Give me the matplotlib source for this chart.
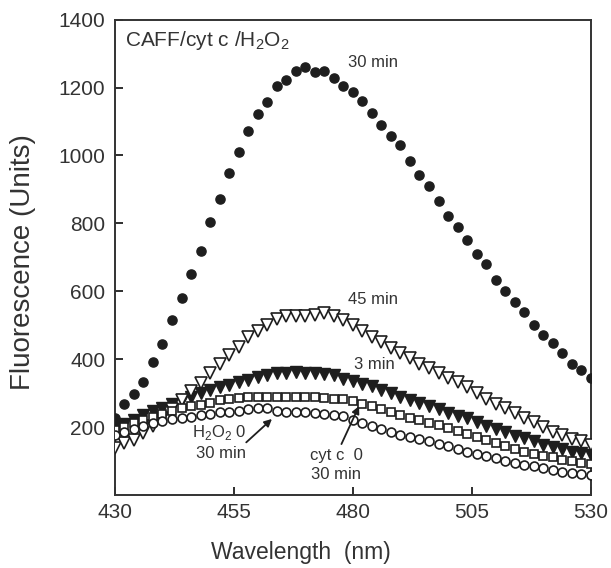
import matplotlib
matplotlib.use("Agg")
import matplotlib.pyplot as plt

plt.rcParams['font.family'] = ['Liberation Sans', 'DejaVu Sans']
plt.rcParams['mathtext.fontset'] = 'custom'
plt.rcParams['mathtext.rm'] = 'Liberation Sans'

wavelength = list(range(430, 531, 2))

caff_30min = [228, 268, 298, 332, 393, 446, 515, 581, 652, 720,
              804, 871, 949, 1011, 1072, 1122, 1157, 1203, 1221, 1249,
              1259, 1247, 1249, 1228, 1203, 1188, 1159, 1126, 1089, 1057,
              1030, 983, 943, 910, 865, 822, 788, 750, 709, 680,
              632, 602, 569, 539, 501, 470, 448, 417, 386, 369, 345]

caff_45min = [138, 152, 163, 182, 204, 228, 253, 280, 305, 330,
              360, 386, 411, 435, 466, 483, 502, 517, 527, 527,
              527, 530, 537, 527, 516, 500, 482, 466, 450, 433,
              419, 404, 386, 374, 360, 345, 332, 317, 300, 283,
              269, 256, 241, 228, 214, 200, 187, 177, 165, 158, 148]

caff_3min = [200, 210, 222, 236, 246, 256, 269, 279, 290, 300,
             310, 318, 325, 332, 340, 348, 352, 358, 360, 361,
             360, 358, 355, 352, 343, 335, 328, 320, 310, 300,
             290, 281, 271, 263, 253, 241, 233, 226, 216, 204,
             194, 185, 175, 167, 158, 148, 141, 135, 128, 123, 118]

cytc0_30min = [192, 200, 212, 222, 230, 238, 246, 256, 262, 266,
               272, 280, 284, 286, 288, 288, 289, 289, 289, 289,
               289, 288, 287, 284, 282, 276, 269, 261, 253, 243,
               236, 228, 220, 212, 205, 197, 189, 180, 172, 163,
               153, 143, 135, 128, 121, 115, 111, 103, 99, 94, 92]

h2o20_30min = [178, 186, 195, 203, 211, 218, 224, 228, 231, 236,
               239, 243, 245, 248, 252, 255, 257, 246, 245, 244,
               243, 241, 239, 236, 232, 222, 212, 202, 195, 186,
               178, 170, 164, 158, 150, 143, 136, 128, 121, 116,
               108, 101, 94, 89, 84, 79, 74, 69, 66, 62, 60]

x_ticks = [430, 455, 480, 505, 530]
y_ticks = [200, 400, 600, 800, 1000, 1200, 1400]

ink = '#1e1e1e'
txt = '#333333'

fig = plt.figure(figsize=(6.11, 5.68), dpi=100)
ax = fig.add_axes([0.188, 0.1285, 0.779, 0.837])

ax.plot(wavelength, caff_30min, 'o', ms=6.6, color=ink, mec=ink, zorder=3)
ax.plot(wavelength, caff_3min, 'v', ms=8.0, color=ink, mec=ink, zorder=3)
ax.plot(wavelength, caff_45min, 'v', ms=8.2, mfc='white', mec=ink, mew=1.2, zorder=4)
ax.plot(wavelength, cytc0_30min, 's', ms=6.2, mfc='white', mec=ink, mew=1.2, zorder=4)
ax.plot(wavelength, h2o20_30min, 'o', ms=6.4, mfc='white', mec=ink, mew=1.2, zorder=5)

ax.set_xlim(430, 530)
ax.set_ylim(0, 1400)
ax.set_xticks(x_ticks)
ax.set_yticks(y_ticks)
ax.tick_params(direction='in', length=6, width=1.3, colors=ink, labelsize=15,
               labelcolor=txt)
ax.tick_params(axis='y', pad=7)
ax.tick_params(axis='x', pad=6)
for s in ax.spines.values():
    s.set_linewidth(1.4)
    s.set_color('#333333')

ax.set_xlabel('Wavelength  (nm)', fontsize=16.5, color=txt)
ax.xaxis.set_label_coords(0.39, -0.097)
ax.set_ylabel('Fluorescence (Units)', fontsize=20, color=txt)
ax.yaxis.set_label_coords(-0.165, 0.49)

ax.text(432.2, 1339, r'CAFF/cyt c /H$_2$O$_2$', fontsize=15, color=txt,
        ha='left', va='center')
fs = 12
ax.text(484.3, 1275, '30 min', fontsize=fs, color=txt, ha='center', va='center')
ax.text(484.3, 576, '45 min', fontsize=fs, color=txt, ha='center', va='center')
ax.text(484.5, 384, '3 min', fontsize=fs, color=txt, ha='center', va='center')
ax.text(452.0, 184, r'H$_2$O$_2$ 0', fontsize=fs, color=txt, ha='center', va='center')
ax.text(452.4, 123, '30 min', fontsize=fs, color=txt, ha='center', va='center')
ax.text(476.6, 116, 'cyt c  0', fontsize=fs, color=txt, ha='center', va='center')
ax.text(476.4, 60, '30 min', fontsize=fs, color=txt, ha='center', va='center')

arrow = dict(arrowstyle='-|>', color=ink, lw=1.3, mutation_scale=11,
             shrinkA=0, shrinkB=0)
ax.annotate('', xy=(463.0, 224), xytext=(457.6, 155), arrowprops=arrow, zorder=6)
ax.annotate('', xy=(481.3, 262), xytext=(477.6, 150), arrowprops=arrow, zorder=6)

fig.savefig('out.png', dpi=100, facecolor='white')
